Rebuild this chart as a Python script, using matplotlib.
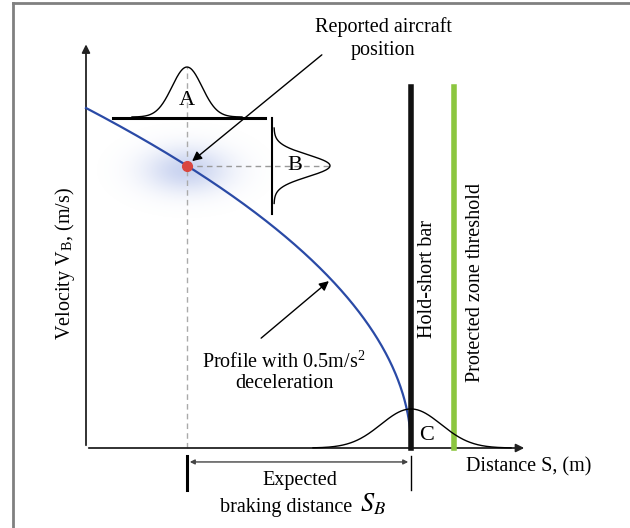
import numpy as np
import matplotlib
matplotlib.use("Agg")
import matplotlib.pyplot as plt

plt.rcParams["font.family"] = ["Liberation Serif", "DejaVu Serif"]
plt.rcParams["mathtext.fontset"] = "stix"

# braking profile
decel = 0.5          # m/s^2
s_brake = 325.0      # expected braking distance (m)
s_report = 101.0     # reported position (m)
v_report = np.sqrt(2 * decel * (s_brake - s_report))
s_hold = 325.0       # hold-short bar
s_protect = 368.0    # protected zone threshold

# uncertainty bells: centre, sigma, height
bell_a = [s_report, 15.0, 2.65]
bell_b = [v_report, 0.58, 56.0]
bell_c = [s_brake, 30.0, 2.07]
cloud_sigma = [30.0, 0.85]

fs = 14.5
ky = 18.86  # px per m/s in the layout
fig = plt.figure(figsize=(6.3, 5.28), dpi=100)
ax = fig.add_axes([0, 0, 1, 1])
ax.set_xlim(-86, 544)
ax.set_ylim(-80 / ky, 448 / ky)
ax.axis("off")

# outer frame (left + top)
fig.add_artist(plt.Line2D([13 / 630, 13 / 630], [0, 1 - 3 / 528], color="#808080", lw=2))
fig.add_artist(plt.Line2D([13 / 630, 1], [1 - 3 / 528, 1 - 3 / 528], color="#808080", lw=2))

# axes arrows
ax.annotate("", xy=(0, 21.55), xytext=(0, 0),
            arrowprops=dict(arrowstyle="-|>", color="#222222", lw=1.3, mutation_scale=12))
ax.annotate("", xy=(441, 0), xytext=(0, 0),
            arrowprops=dict(arrowstyle="-|>", color="#222222", lw=1.3, mutation_scale=12))

# uncertainty cloud
gs = np.linspace(s_report - 100, s_report + 100, 200)
gv = np.linspace(v_report - 3.0, v_report + 2.6, 120)
GS, GV = np.meshgrid(gs, gv)
dens = np.exp(-((GS - s_report) ** 2) / (2 * cloud_sigma[0] ** 2)
              - ((GV - v_report + 0.25) ** 2) / (2 * cloud_sigma[1] ** 2))
img = np.zeros(dens.shape + (4,))
img[..., 0] = 0.45
img[..., 1] = 0.55
img[..., 2] = 0.85
img[..., 3] = 0.38 * dens
ax.imshow(img, extent=(gs[0], gs[-1], gv[0], gv[-1]), origin="lower",
          aspect="auto", zorder=1, interpolation="bilinear")

# dashed guides
ax.plot([s_report, s_report], [0, 20.2], ls=(0, (4, 3)), color="#aaaaaa", lw=1, zorder=2)
ax.plot([s_report, 244], [v_report, v_report], ls=(0, (4, 3)), color="#999999", lw=1, zorder=2)

# braking profile
s = np.linspace(0, s_brake, 400)
v = np.sqrt(2 * decel * (s_brake - s))
ax.plot(s, v, color="#2a4aa6", lw=1.6, zorder=3)

# reported position
ax.plot(s_report, v_report, "o", color="#d9463f", ms=7, zorder=5)

# bell A (along distance)
ax.plot([27, 179], [17.5, 17.5], color="black", lw=2.2)
xa = np.linspace(bell_a[0] - 55, bell_a[0] + 55, 200)
ax.plot(xa, 17.55 + bell_a[2] * np.exp(-(xa - bell_a[0]) ** 2 / (2 * bell_a[1] ** 2)),
        color="black", lw=1)
ax.text(s_report, 18.45, "A", ha="center", va="center", fontsize=16)

# bell B (along velocity)
ax.plot([186, 186], [12.41, 17.5], color="black", lw=1.5)
yb = np.linspace(bell_b[0] - 2.0, bell_b[0] + 2.0, 200)
ax.plot(188 + bell_b[2] * np.exp(-(yb - bell_b[0]) ** 2 / (2 * bell_b[1] ** 2)), yb,
        color="black", lw=1)
ax.text(209, v_report, "B", ha="center", va="center", fontsize=16)

# bell C (stopping point)
xc = np.linspace(227, 425, 300)
ax.plot(xc, bell_c[2] * np.exp(-(xc - bell_c[0]) ** 2 / (2 * bell_c[1] ** 2)),
        color="black", lw=1, zorder=4)
ax.text(341, 0.64, "C", ha="center", va="center", fontsize=16)

# hold-short bar and protected zone
ax.plot([s_hold, s_hold], [0, 19.14], color="#111111", lw=4, zorder=3)
ax.plot([s_protect, s_protect], [0, 19.14], color="#8cc63f", lw=4, zorder=3)
ax.text(342, 8.96, "Hold-short bar", rotation=90, ha="center", va="center", fontsize=fs)
ax.text(389, 8.8, "Protected zone threshold", rotation=90, ha="center", va="center", fontsize=fs)

# annotations
ax.annotate("", xy=(s_report + 3, v_report + 0.15), xytext=(238, 20.94),
            arrowprops=dict(arrowstyle="-|>", color="black", lw=1, mutation_scale=14))
ax.text(297, 21.7, "Reported aircraft\nposition", ha="center", va="center",
        fontsize=fs, linespacing=1.3)

s_tip = 245.0
ax.annotate("", xy=(s_tip, np.sqrt(2 * decel * (s_brake - s_tip))), xytext=(173, 5.73),
            arrowprops=dict(arrowstyle="-|>", color="black", lw=1, mutation_scale=14))
ax.text(198, 4.0, "Profile with 0.5m/s$^{\\mathregular{2}}$\ndeceleration",
        ha="center", va="center", fontsize=fs, linespacing=1.1)

# axis labels
ax.text(380, -1.0, "Distance S, (m)", ha="left", va="center", fontsize=fs)
ax.text(-21, 9.76, "Velocity V$_{\\mathregular{B}}$, (m/s)", rotation=90,
        ha="center", va="center", fontsize=fs)

# expected braking distance
ax.plot([s_report, s_report], [-0.42, -2.23], color="black", lw=2.2)
ax.plot([s_brake, s_brake], [-0.42, -2.23], color="black", lw=1)
ax.annotate("", xy=(s_report, -0.74), xytext=(s_brake, -0.74),
            arrowprops=dict(arrowstyle="<|-|>", color="#444444", lw=1, mutation_scale=7))
ax.text(214, -1.70, "Expected", ha="center", va="center", fontsize=fs)
ax.text(266, -3.13, "braking distance", ha="right", va="center", fontsize=fs)
ax.text(274, -3.0, "$S_B$", ha="left", va="center", fontsize=19)

fig.savefig("out.png", dpi=100)
